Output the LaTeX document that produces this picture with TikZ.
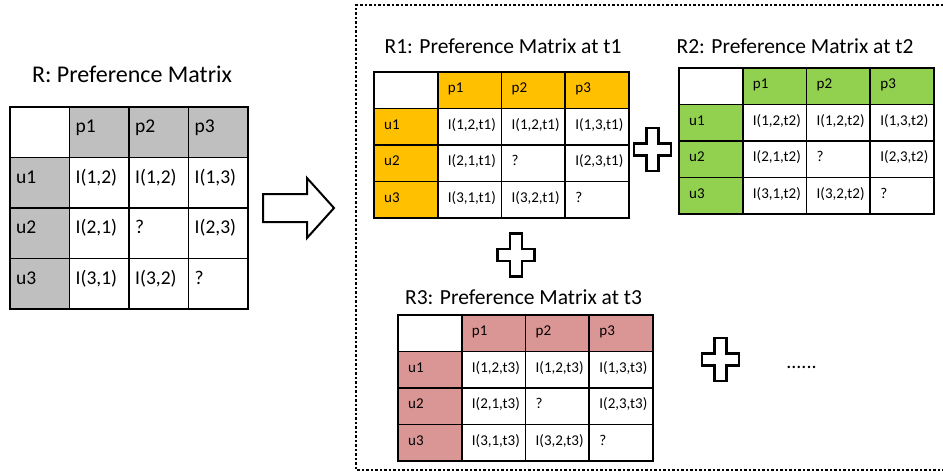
\documentclass[tikz,border=0pt]{standalone}
\usepackage{fontspec}
\setmainfont{Carlito}

\definecolor{hdrgray}{HTML}{BFBFBF}
\definecolor{hdrorange}{HTML}{FFC000}
\definecolor{hdrgreen}{HTML}{92D050}
\definecolor{hdrpink}{HTML}{DA9694}

\tikzset{
  cellline/.style={draw=black, line width=1.6pt, line cap=rect},
  celltext/.style={anchor=west, inner sep=0pt, text height=0.7em, text depth=0.2em},
  matrixtitle/.style={anchor=base, inner sep=0pt},
  plusline/.style={draw=black, line width=2.5pt, fill=white, line join=miter},
}

\begin{document}
\begin{tikzpicture}[x=1pt,y=-1pt]
        \useasboundingbox (0,0) rectangle (943,474);
        % name, x, y, cell width, cell height, fill, suffix, text style
        \newcommand{\prefmat}[8]{%
            \begin{scope}[shift={(#2,#3)}]
                \fill[#6] (#4,0) rectangle (4*#4,#5); %header row
                \fill[#6] (0,#5) rectangle (#4,4*#5); %user column
                \foreach \k in {0,...,4} {
                    \draw[cellline] (\k*#4,0) -- (\k*#4,4*#5);
                    \draw[cellline] (0,\k*#5) -- (4*#4,\k*#5);
                }
                \foreach \j in {1,2,3}
                    \node[celltext,#8] (#1-p\j) at (\j*#4,0.5*#5) {p\j};
                \foreach \i in {1,2,3}
                    \node[celltext,#8] (#1-u\i) at (0,{(\i+0.5)*#5}) {u\i};
                \foreach \i/\j/\txt in {1/1/{I(1,2#7)},1/2/{I(1,2#7)},1/3/{I(1,3#7)},
                                        2/1/{I(2,1#7)},2/2/?,2/3/{I(2,3#7)},
                                        3/1/{I(3,1#7)},3/2/{I(3,2#7)},3/3/?}
                    \node[celltext,#8] (#1-\i\j) at (\j*#4,{(\i+0.5)*#5}) {\txt};
            \end{scope}
        }
        % centre x, centre y
        \newcommand{\plusmark}[2]{%
            \draw[plusline, shift={(#1,#2)}] (-6,-21.5) -- (6,-21.5) -- (6,-6) -- (18.5,-6) -- (18.5,6) -- (6,6)
                -- (6,21.5) -- (-6,21.5) -- (-6,6) -- (-18.5,6) -- (-18.5,-6) -- (-6,-6) -- cycle;
        }

        \draw[line width=2pt, dash pattern=on 2.5pt off 2pt] (943,5) -- (356,5) -- (356,470) -- (943,470); %frame

        \prefmat{R}{10}{107}{59.5}{50.5}{hdrgray}{}{font=\fontsize{19.5}{21}\selectfont, xshift=6, yshift=2}
        \prefmat{R1}{374}{72}{63.75}{36.5}{hdrorange}{,t1}{font=\fontsize{15}{17}\selectfont, xshift=10}
        \prefmat{R2}{679}{68}{63.75}{36.5}{hdrgreen}{,t2}{font=\fontsize{15}{17}\selectfont, xshift=10}
        \prefmat{R3}{398}{315}{63.75}{36.5}{hdrpink}{,t3}{font=\fontsize{15}{17}\selectfont, xshift=10}

        \node[matrixtitle, font=\fontsize{24}{28}\selectfont] (R-title) at (132,82) {R: Preference Matrix};
        \node[matrixtitle, font=\fontsize{21.5}{25}\selectfont] (R1-title) at (503,53) {R1: Preference Matrix at t1};
        \node[matrixtitle, font=\fontsize{21.5}{25}\selectfont] (R2-title) at (795,53) {R2: Preference Matrix at t2};
        \node[matrixtitle, font=\fontsize{21.5}{25}\selectfont] (R3-title) at (523.5,304) {R3: Preference Matrix at t3};

        \draw[line width=2pt, line join=miter, fill=white] (263,194) -- (307,194) -- (307,178) -- (334,208)
            -- (307,238) -- (307,222) -- (263,222) -- cycle; %arrow

        \plusmark{652.5}{149.5}
        \plusmark{516}{255}
        \plusmark{720.5}{359.5}

        \node[matrixtitle, font=\fontsize{20}{24}\selectfont] (more) at (801.5,368) {......};
\end{tikzpicture}
\end{document}
